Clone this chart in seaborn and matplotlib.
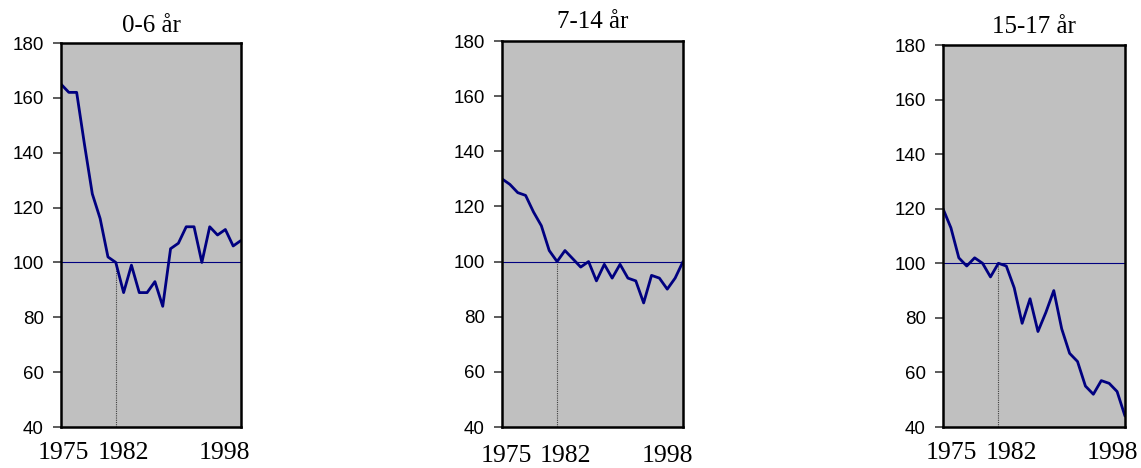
import matplotlib
matplotlib.use("Agg")
import matplotlib.pyplot as plt
import matplotlib.transforms as mtransforms
import numpy as np
import pandas as pd
import seaborn as sns

years = list(range(1975, 1999))
titles = ["0-6 år", "7-14 år", "15-17 år"]

age_0_6 = [165, 162, 162, 143, 125, 116, 102, 100, 89, 99, 89, 89,
           93, 84, 105, 107, 113, 113, 100, 113, 110, 112, 106, 108]
age_7_14 = [130, 128, 125, 124, 118, 113, 104, 100, 104, 101, 98, 100,
            93, 99, 94, 99, 94, 93, 85, 95, 94, 90, 94, 100]
age_15_17 = [120, 113, 102, 99, 102, 100, 95, 100, 99, 91, 78, 87,
             75, 82, 90, 76, 67, 64, 55, 52, 57, 56, 53, 44]

base_year = 1982
base_value = 100
yticks = [40, 60, 80, 100, 120, 140, 160, 180]
xticks = [1975, 1982, 1998]

sns.set_style("ticks")
plt.rcParams["text.color"] = "black"
plt.rcParams["xtick.color"] = "black"
plt.rcParams["ytick.color"] = "black"

fig = plt.figure(figsize=(11.41, 4.68), dpi=100)
W, H = 1141, 468
bottom_px = 427

# per panel: axes box in pixels (left, top, right), x label pad, title pad, label nudges (px)
boxes = [(61, 43, 241), (502, 41, 683), (943, 45, 1125)]
xlabel_pads = [10.5, 13, 11]
title_pads = [8, 9, 8.5]
nudges = [[2, 7.5, -16.5], [4.5, 8.5, -15.5], [8, 13, -12.5]]

series = [age_0_6, age_7_14, age_15_17]
for i, (title, vals) in enumerate(zip(titles, series)):
    left, top, right = boxes[i]
    ax = fig.add_axes([left / W, (H - bottom_px) / H, (right - left) / W, (bottom_px - top) / H])
    ax.set_facecolor("#c0c0c0")
    df = pd.DataFrame({"year": years, "index": vals})
    ax.axhline(base_value, color="#000080", lw=0.8, zorder=1)
    ax.vlines(base_year, 40, base_value, colors="#404040", linestyles=(0, (1, 1)), lw=0.8, zorder=1)
    sns.lineplot(data=df, x="year", y="index", ax=ax, color="#000080", lw=2.0, zorder=2)
    ax.set_xlim(1975, 1998)
    ax.set_ylim(40, 180)
    ax.set_yticks(yticks)
    ax.set_yticklabels([str(v) for v in yticks], family="Liberation Sans", fontsize=13.5)
    ax.set_xticks(xticks)
    ax.set_xticklabels([str(v) for v in xticks], family="Liberation Serif", fontsize=18.5)
    ax.tick_params(axis="x", length=0, pad=xlabel_pads[i])
    ax.tick_params(axis="y", length=5.5, width=1.2, color="#404040", pad=7)
    for lab, dx in zip(ax.get_xticklabels(), nudges[i]):
        lab.set_transform(lab.get_transform() + mtransforms.ScaledTranslation(dx / 100, 0, fig.dpi_scale_trans))
    ax.set_xlabel("")
    ax.set_ylabel("")
    for sp in ax.spines.values():
        sp.set_visible(True)
        sp.set_color("black")
        sp.set_linewidth(1.8)
    ax.set_title(title, family="Liberation Serif", fontsize=18, pad=title_pads[i])

fig.savefig("out.png", dpi=100)
